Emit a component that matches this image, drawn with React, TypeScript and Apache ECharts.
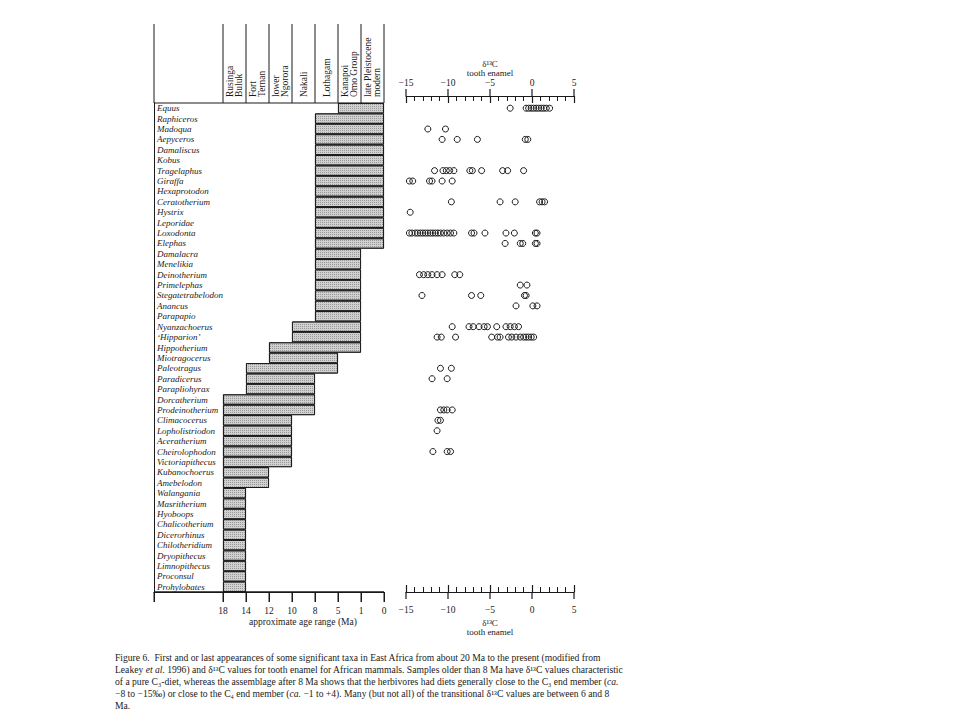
import React, { useEffect, useRef } from 'react';
import * as echarts from 'echarts';

const taxa = [
  'Equus', 'Raphiceros', 'Madoqua', 'Aepyceros', 'Damaliscus', 'Kobus', 'Tragelaphus', 'Giraffa',
  'Hexaprotodon', 'Ceratotherium', 'Hystrix', 'Leporidae', 'Loxodonta', 'Elephas', 'Damalacra',
  'Menelikia', 'Deinotherium', 'Primelephas', 'Stegatetrabelodon', 'Anancus', 'Parapapio',
  'Nyanzachoerus', '\u2018Hipparion\u2019', 'Hippotherium', 'Miotragocerus', 'Paleotragus', 'Paradicerus',
  'Parapliohyrax', 'Dorcatherium', 'Prodeinotherium', 'Climacocerus', 'Lopholistriodon',
  'Aceratherium', 'Cheirolophodon', 'Victoriapithecus', 'Kubanochoerus', 'Amebelodon',
  'Walangania', 'Masritherium', 'Hyoboops', 'Chalicotherium', 'Dicerorhinus', 'Chilotheridium',
  'Dryopithecus', 'Limnopithecus', 'Proconsul', 'Prohylobates',
];

// first and last appearance (Ma), one per taxon
const firstMa = [
  5, 8, 8, 8, 8, 8, 8, 8, 8, 8, 8, 8, 8, 8,
  8, 8, 8, 8, 8, 8, 8,
  10, 10, 12, 12, 14, 14, 14, 18, 18,
  18, 18, 18, 18, 18, 18, 18,
  18, 18, 18, 18, 18, 18, 18, 18, 18, 18,
];
const lastMa = [
  0, 0, 0, 0, 0, 0, 0, 0, 0, 0, 0, 0, 0, 0,
  1, 1, 1, 1, 1, 1, 1,
  1, 1, 1, 5, 5, 8, 8, 8, 8,
  10, 10, 10, 10, 10, 12, 12,
  14, 14, 14, 14, 14, 14, 14, 14, 14, 14,
];

const ageTicks = ['18', '14', '12', '10', '8', '5', '1', '0'];
const headerSites = [
  'Rusinga\nBuluk', 'Fort\nTernan', 'lower\nNgorora', 'Nakali', 'Lothagam',
  'Kanapoi\nOmo Group', 'late Pleistocene\nmodern',
];
const d13cMajorTicks = [-15, -10, -5, 0, 5];

// δ13C values of tooth enamel (‰)
const d13cEquus = [-2.6, -0.7, -0.4, -0.1, 0.2, 0.5, 0.8, 1.1, 1.4, 1.7, 2.1];
const d13cMadoqua = [-12.4, -10.3];
const d13cAepyceros = [-10.7, -8.9, -6.5, -0.8, -0.5];
const d13cTragelaphus = [-11.6, -10.6, -10.2, -9.8, -9.3, -7.4, -7.1, -6.0, -3.5, -2.9, -1.0];
const d13cGiraffa = [-14.6, -14.2, -12.2, -11.9, -10.7, -9.5];
const d13cCeratotherium = [-9.6, -3.8, -2.0, 0.9, 1.2, 1.5];
const d13cHystrix = [-14.5];
const d13cLoxodonta = [
  -14.6, -14.3, -13.9, -13.6, -13.3, -13.0, -12.7, -12.4, -12.1, -11.8, -11.5, -11.2, -10.9,
  -10.5, -10.1, -9.7, -9.3, -7.2, -6.9, -5.6, -3.1, -2.1, 0.4, 0.6,
];
const d13cElephas = [-3.2, -1.4, -1.1, 0.4, 0.6];
const d13cDeinotherium = [-13.4, -12.9, -12.4, -11.9, -11.3, -10.7, -9.2, -8.6];
const d13cPrimelephas = [-1.4, -0.6];
const d13cStegatetrabelodon = [-13.1, -7.2, -6.1, -0.9, -0.7];
const d13cAnancus = [-1.9, 0.1, 0.6];
const d13cNyanzachoerus = [-9.5, -7.5, -7.0, -6.3, -5.7, -5.3, -4.2, -3.1, -2.6, -2.1, -1.6];
const d13cHipparion = [-11.3, -10.8, -9.1, -4.8, -4.1, -3.8, -2.8, -2.4, -1.9, -1.4, -1.0, -0.7, -0.4, -0.1, 0.2];
const d13cPaleotragus = [-10.9, -9.6];
const d13cParadicerus = [-11.9, -10.1];
const d13cProdeinotherium = [-10.9, -10.5, -10.1, -9.5];
const d13cClimacocerus = [-11.2, -10.9];
const d13cLopholistriodon = [-11.3];
const d13cCheirolophodon = [-11.8, -10.1, -9.7];

const d13cByTaxon: [string, number[]][] = [
  ['Equus', d13cEquus], ['Madoqua', d13cMadoqua], ['Aepyceros', d13cAepyceros],
  ['Tragelaphus', d13cTragelaphus], ['Giraffa', d13cGiraffa], ['Ceratotherium', d13cCeratotherium],
  ['Hystrix', d13cHystrix], ['Loxodonta', d13cLoxodonta], ['Elephas', d13cElephas],
  ['Deinotherium', d13cDeinotherium], ['Primelephas', d13cPrimelephas],
  ['Stegatetrabelodon', d13cStegatetrabelodon], ['Anancus', d13cAnancus],
  ['Nyanzachoerus', d13cNyanzachoerus], ['\u2018Hipparion\u2019', d13cHipparion],
  ['Paleotragus', d13cPaleotragus], ['Paradicerus', d13cParadicerus],
  ['Prodeinotherium', d13cProdeinotherium], ['Climacocerus', d13cClimacocerus],
  ['Lopholistriodon', d13cLopholistriodon], ['Cheirolophodon', d13cCheirolophodon],
];

const captionLines = [
  'Figure 6.  First and or last appearances of some significant taxa in East Africa from about 20 Ma to the present (modified from',
  'Leakey {i|et al.} 1996) and \u03b4\u00b9\u00b3C values for tooth enamel for African mammals. Samples older than 8 Ma have \u03b4\u00b9\u00b3C values characteristic',
  'of a pure C\u2083-diet, whereas the assemblage after 8 Ma shows that the herbivores had diets generally close to the C\u2083 end member ({i|ca.}',
  '\u22128 to \u221215\u2030) or close to the C\u2084 end member ({i|ca.} \u22121 to +4). Many (but not all) of the transitional \u03b4\u00b9\u00b3C values are between 6 and 8',
  'Ma.',
];

const SERIF = '"Liberation Serif", "DejaVu Serif", serif';
const INK = '#1a1a1a';

// left panel: three blank slots for the name column, then the age ticks
const ageAxisSlots = ['', '', '', ...ageTicks];
const ageIndex = (ma: number) => ageTicks.indexOf(String(ma));
const minusFmt = (v: number) => (v < 0 ? '\u2212' + Math.abs(v) : String(v));

function buildOption(): any {
  const d13cAxisBase = {
    gridIndex: 1, type: 'value', min: -15, max: 5, interval: 5,
    splitLine: { show: false },
    axisLine: { show: true, onZero: false, lineStyle: { color: INK, width: 1.2 } },
  };
  const scatterData: [number, string][] = [];
  d13cByTaxon.forEach(([name, vals]) => vals.forEach((v) => scatterData.push([v, name])));

  return {
    animation: false,
    backgroundColor: '#fff',
    grid: [
      { left: 154, right: 576, top: 103, bottom: 128 },
      { left: 406, right: 386, top: 103, bottom: 128 },
    ],
    xAxis: [
      // hidden value axis used by the range bars (index of age tick)
      { gridIndex: 0, type: 'value', min: -3, max: 7, show: false },
      {
        ...d13cAxisBase, position: 'bottom',
        axisTick: { show: true, inside: true, length: 7, lineStyle: { color: INK, width: 1.2 } },
        minorTick: { show: true, splitNumber: 5, length: 5, lineStyle: { color: INK } },
        axisLabel: { formatter: minusFmt, margin: 13, color: INK, fontFamily: SERIF, fontSize: 9.5 },
        name: '\u03b4\u00b9\u00b3C\ntooth enamel', nameLocation: 'middle', nameGap: 26,
        nameMoveOverlap: false,
        nameTextStyle: { color: INK, fontFamily: SERIF, fontSize: 9, lineHeight: 9 },
      },
      {
        ...d13cAxisBase, position: 'top', offset: 7,
        axisTick: { show: true, inside: true, length: 7, lineStyle: { color: INK, width: 1.2 } },
        minorTick: { show: true, splitNumber: 5, length: 5, lineStyle: { color: INK } },
        axisLabel: { formatter: minusFmt, margin: 8, color: INK, fontFamily: SERIF, fontSize: 9.5 },
        name: '\u03b4\u00b9\u00b3C\ntooth enamel', nameLocation: 'middle', nameGap: 19,
        nameMoveOverlap: false,
        nameTextStyle: { color: INK, fontFamily: SERIF, fontSize: 9, lineHeight: 9 },
      },
      // visible age axis of the left panel (labels and name)
      {
        gridIndex: 0, type: 'category', data: ageAxisSlots, boundaryGap: false, position: 'bottom',
        axisLine: { show: true, onZero: false, lineStyle: { color: INK, width: 1 } },
        axisTick: {
          show: true, length: 10, lineStyle: { color: INK },
          interval: (i: number, v: string) => i === 0 || v !== '',
        },
        axisLabel: { interval: 0, margin: 14, color: INK, fontFamily: SERIF, fontSize: 9.5 },
        splitLine: { show: false },
        name: 'approximate age range (Ma)', nameLocation: 'middle', nameGap: 25,
        nameMoveOverlap: false,
        nameTextStyle: { color: INK, fontFamily: SERIF, fontSize: 9.5, padding: [0, 0, 0, 68] },
      },
    ],
    yAxis: [
      {
        gridIndex: 0, type: 'category', data: taxa, inverse: true,
        axisLine: { show: true, onZero: false, lineStyle: { color: INK, width: 1 } },
        axisTick: { show: false },
        axisLabel: {
          inside: true, margin: 3, interval: 0, color: INK, padding: [5, 0, 0, 0],
          fontFamily: SERIF, fontStyle: 'italic', fontSize: 9,
        },
      },
      { gridIndex: 1, type: 'category', data: taxa, inverse: true, show: false },
    ],
    series: [
      {
        type: 'bar', stack: 'range', xAxisIndex: 0, yAxisIndex: 0, barWidth: '100%', silent: true,
        data: taxa.map((_, i) => ageIndex(firstMa[i])),
        itemStyle: { color: 'rgba(0,0,0,0)' },
      },
      {
        type: 'bar', stack: 'range', xAxisIndex: 0, yAxisIndex: 0, barWidth: '100%', silent: true,
        data: taxa.map((_, i) => ageIndex(lastMa[i]) - ageIndex(firstMa[i])),
        itemStyle: {
          color: '#d0d0d0', borderColor: INK, borderWidth: 0.9,
          decal: {
            symbol: 'rect', symbolSize: 1, dashArrayX: [1, 1], dashArrayY: [1, 1],
            color: '#999999', backgroundColor: '#dcdcdc',
          },
        },
      },
      {
        type: 'scatter', xAxisIndex: 1, yAxisIndex: 1, symbol: 'circle', symbolSize: 6, silent: true,
        data: scatterData,
        itemStyle: { color: 'rgba(255,255,255,0)', borderColor: INK, borderWidth: 1, opacity: 1 },
      },
    ],
  };
}

export default function App() {
  const ref = useRef<HTMLDivElement>(null);
  useEffect(() => {
    const chart = echarts.init(ref.current!, null, { renderer: 'svg' });
    chart.setOption(buildOption());

    const X = (v: number) => chart.convertToPixel({ xAxisIndex: 0 }, v) as number;
    const XD = (v: number) => chart.convertToPixel({ xAxisIndex: 1 }, v) as number;
    const Y = (i: number) => chart.convertToPixel({ yAxisIndex: 0 }, i) as number;
    const band = Y(1) - Y(0);
    const top = Y(0) - band / 2;
    const bottom = top + band * taxa.length;
    const headerTop = 24;
    const dTop = top - 7; // top δ13C axis line (offset 7)
    const line = (x1: number, y1: number, x2: number, y2: number, w = 1) => ({
      type: 'line', silent: true, z: 50, shape: { x1, y1, x2, y2 }, style: { stroke: INK, lineWidth: w },
    });
    const g: any[] = [];
    // header column rules
    [-3, 0, 1, 2, 3, 4, 5, 6, 7].forEach((v) => g.push(line(X(v), headerTop, X(v), top)));
    g.push(line(X(-3), top, X(7), top, 1.2));
    // left age axis line and ticks
    g.push(line(X(-3), bottom, X(7), bottom, 1.3));
    [-3, 0, 1, 2, 3, 4, 5, 6, 7].forEach((v) => g.push(line(X(v), bottom, X(v), bottom + 10)));
    // δ13C axes: outer half of major ticks (they cross the axis line)
    d13cMajorTicks.forEach((v) => {
      g.push(line(XD(v), bottom, XD(v), bottom + 7, 1.2));
      g.push(line(XD(v), dTop, XD(v), dTop - 7, 1.2));
    });
    headerSites.forEach((s, i) =>
      g.push({
        type: 'text', silent: true,
        x: (X(i) + X(i + 1)) / 2, y: top - 6, rotation: Math.PI / 2,
        style: {
          text: s, align: 'left', verticalAlign: 'middle', fill: INK,
          fontFamily: SERIF, fontSize: 9.5, lineHeight: 9.5,
        },
      })
    );
    g.push({
      type: 'text', silent: true, x: 115, y: 652,
      style: {
        text: captionLines.join('\n'), align: 'left', verticalAlign: 'top', fill: INK,
        fontFamily: SERIF, fontSize: 9.6, lineHeight: 11.8,
        rich: { i: { fontStyle: 'italic', fontFamily: SERIF, fontSize: 9.6, lineHeight: 11.8, fill: INK } },
      },
    });
    chart.setOption({ graphic: g });
    return () => chart.dispose();
  }, []);
  return <div ref={ref} style={{ position: 'fixed', left: 0, top: 0, width: 960, height: 720 }} />;
}
